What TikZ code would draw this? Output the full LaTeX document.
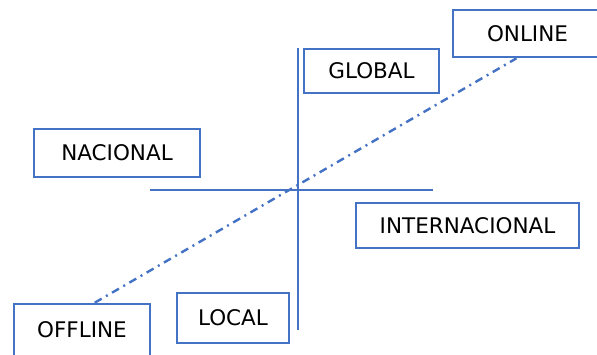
\documentclass[tikz,border=0pt]{standalone}
\usepackage{fontspec}
\setmainfont{DejaVu Sans}
\usepackage{tikz}
\usetikzlibrary{positioning}
\definecolor{boxblue}{HTML}{4472C4}
\tikzset{
    %Define style for boxes
    cat/.style={
           rectangle,
           draw=boxblue, line width=2.6pt,
           inner sep=0pt,
           font=\fontsize{21.5}{24}\selectfont,
           text=black,
           text centered},
    % Define line styles
    axis/.style={
           draw=boxblue, line width=1.1pt},
    trend/.style={
           draw=boxblue, line width=2.4pt,
           dash pattern=on 8pt off 5pt on 2pt off 5pt}
}
\begin{document}
\begin{tikzpicture}[x=1pt,y=-1pt]
\useasboundingbox (0,0) rectangle (597,354);
\node[cat, minimum width=149pt, minimum height=47pt] (online) at (527.5,33.5) {ONLINE};
\node[cat, minimum width=135pt, minimum height=44pt] (global) at (371.5,71) {GLOBAL};
\node[cat, minimum width=166pt, minimum height=48pt] (nacional) at (117,153) {NACIONAL};
\node[cat, minimum width=223pt, minimum height=45pt] (internacional) at (467.5,225.5) {INTERNACIONAL};
\node[cat, minimum width=136pt, minimum height=52pt] (offline) at (82,330) {OFFLINE};
\node[cat, minimum width=112pt, minimum height=50pt] (local) at (233,318) {LOCAL};

% axes
\coordinate (top) at (298,48);
\coordinate (bottom) at (298,330);
\coordinate (left) at (150,190);
\coordinate (right) at (433,190);
\draw[axis] (top) -- (bottom);
\draw[axis] (left) -- (right);

\draw[trend] (offline.65) -- (online.246);
\end{tikzpicture}
\end{document}
